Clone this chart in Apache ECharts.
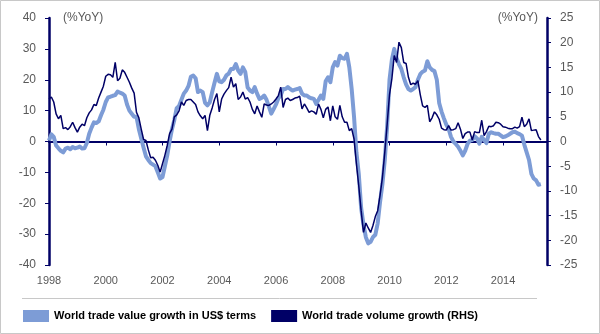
<!DOCTYPE html>
<html>
<head>
<meta charset="utf-8">
<style>
  html, body { margin: 0; padding: 0; background: #ffffff; }
  #chart { width: 600px; height: 334px; }
</style>
<script src="https://cdn.jsdelivr.net/npm/echarts@6/dist/echarts.min.js"></script>
</head>
<body>
<div id="chart"></div>
<script>
// Monthly series, January 1998 onwards (% year on year)
var startYear = 1998;

// World trade value growth in US$ terms (left axis)
var valueGrowth = [
  0.3, 2.3, 1.5, -1.3, -2.2, -3.0, -3.5, -2.3, -2.0, -2.5, -1.8, -2.2,          // 1998
  -2.0, -1.6, -2.3, -2.2, -0.5, 2.5, 4.5, 6.2, 6.0, 6.5, 8.5, 10.3,              // 1999
  12.8, 14.3, 14.5, 14.8, 15.0, 16.2, 15.8, 15.5, 14.9, 12.0, 10.0, 9.0,          // 2000
  8.0, 8.0, 4.0, 1.0, -2.0, -4.8, -6.0, -7.0, -7.5, -8.0, -10.0, -12.0,           // 2001
  -11.5, -8.0, -4.5, 0.0, 4.0, 7.0, 10.8, 11.5, 13.5, 15.5, 16.5, 18.0,           // 2002
  21.0, 21.4, 20.5, 16.0, 16.5, 16.0, 12.5, 11.7, 12.7, 16.0, 19.0, 21.9,         // 2003
  19.5, 19.2, 20.0, 21.4, 22.0, 23.5, 23.5, 25.1, 23.0, 21.9, 24.0, 22.5,         // 2004
  17.5, 16.5, 16.0, 17.6, 15.5, 13.8, 14.2, 14.9, 13.5, 11.3, 9.0, 10.5,          // 2005
  12.0, 14.0, 15.0, 17.0, 17.0, 17.6, 17.0, 16.5, 16.8, 17.0, 17.3, 15.5,         // 2006
  14.9, 14.9, 14.3, 14.0, 13.8, 12.2, 13.5, 14.9, 13.8, 19.5, 20.8, 19.2,         // 2007
  24.0, 25.7, 24.6, 27.8, 27.0, 26.8, 28.4, 24.0, 17.0, 8.0, -3.5, -10.5,         // 2008
  -21.5, -27.0, -31.0, -33.0, -32.5, -31.0, -30.2, -26.5, -19.6, -13.8, -6.0, 5.0, // 2009
  20.0, 26.5, 30.0, 27.0, 25.0, 23.5, 20.8, 18.5, 17.0, 16.5, 17.0, 17.6,         // 2010
  20.0, 21.8, 22.6, 23.0, 26.0, 24.0, 23.2, 22.8, 20.0, 12.5, 9.7, 7.5,           // 2011
  5.5, 4.1, 1.5, 0.0, -0.8, -1.7, -3.0, -4.5, -3.0, -0.8, 0.3, 0.5,               // 2012
  1.7, 1.0, -0.7, 1.5, 0.5, -0.5, 2.5, 3.0, 2.7, 2.5, 2.5, 2.0,                   // 2013
  1.4, 1.6, 2.0, 2.5, 3.0, 3.2, 2.7, 2.4, 1.9, -1.0, -3.5, -6.0,                  // 2014
  -10.5, -12.0, -12.6, -14.0, -13.8                                               // 2015
];

// World trade volume growth (right axis)
var volumeGrowth = [
  8.6, 9.0, 8.0, 5.6, 4.6, 5.3, 2.6, 2.8, 2.4, 3.0, 3.9, 2.8,                     // 1998
  1.9, 2.9, 3.5, 3.2, 4.8, 5.8, 6.4, 7.5, 7.3, 8.8, 10.0, 11.2,                   // 1999
  13.2, 13.6, 13.5, 13.0, 16.0, 12.3, 12.8, 14.5, 14.0, 13.0, 12.0, 10.8,         // 2000
  9.8, 5.9, 4.8, 2.5, 0.4, 0.2, -1.7, -3.3, -3.2, -3.8, -4.8, -6.2,               // 2001
  -4.5, -2.8, -0.8, 1.6, 2.5, 5.0, 5.4, 6.2, 8.0, 7.3, 8.3, 8.5,                  // 2002
  8.5, 8.0, 7.5, 6.0, 5.2, 4.6, 5.3, 2.2, 5.3, 6.8, 8.5, 9.7,                     // 2003
  6.0, 8.6, 9.6, 10.3, 10.9, 13.0, 11.0, 11.7, 8.5, 9.0, 10.0, 8.6,               // 2004
  8.9, 8.0, 6.5, 5.6, 7.2, 6.0, 4.9, 7.6, 7.4, 7.3, 7.6, 8.0,                     // 2005
  8.6, 9.3, 11.0, 6.9, 8.5, 8.8, 8.3, 8.5, 8.8, 8.9, 9.2, 6.6,                    // 2006
  7.6, 6.8, 5.9, 6.2, 6.0, 5.5, 7.6, 6.5, 4.8, 6.5, 7.0, 4.2,                     // 2007
  7.2, 5.0, 4.5, 7.3, 5.0, 3.9, 3.9, 2.2, 2.6, 0.5, -4.5, -9.0,                   // 2008
  -14.0, -18.4, -16.5, -17.5, -18.4, -17.0, -15.2, -14.0, -10.9, -7.3, -2.2, 3.5, // 2009
  9.5, 12.7, 17.4, 16.0, 20.1, 19.0, 16.0, 15.8, 13.0, 11.5, 11.8, 11.6,          // 2010
  12.3, 9.5, 7.2, 6.9, 7.3, 4.0, 4.8, 6.0, 5.4, 4.5, 2.7, 2.4,                    // 2011
  2.3, 3.2, 2.3, 2.4, 2.6, 3.8, 2.5, 0.6, 1.6, 1.9, 1.9, 0.3,                     // 2012
  2.0, 1.8, 1.8, 4.3, 1.2, 2.0, 3.1, 3.0, 3.2, 3.9, 3.8, 3.5,                     // 2013
  3.0, 2.9, 2.7, 2.6, 2.6, 2.9, 2.7, 3.0, 4.9, 3.0, 3.5, 4.6,                     // 2014
  2.2, 2.3, 2.4, 1.0, 0.3                                                         // 2015
];

var yearTicks = [1998, 2000, 2002, 2004, 2006, 2008, 2010, 2012, 2014];
var leftTicks = { min: -40, max: 40, step: 10 };
var rightTicks = { min: -25, max: 25, step: 5 };

var valueName = 'World trade value growth in US$ terms';
var volumeName = 'World trade volume growth (RHS)';

function toPairs(values) {
  return values.map(function (v, i) { return [startYear + i / 12, v]; });
}

var navy = '#000066';
var lightBlue = '#7d9cd6';
var labelGrey = '#595959';
var font = '"Liberation Sans", Arial, sans-serif';

var chart = echarts.init(document.getElementById('chart'), null, { renderer: 'canvas' });

chart.setOption({
  animation: false,
  backgroundColor: '#ffffff',
  grid: { left: 49, right: 53, top: 18, bottom: 69, containLabel: false },
  legend: {
    left: 23,
    top: 310,
    padding: 0,
    icon: 'rect',
    itemWidth: 26,
    itemHeight: 12,
    itemGap: 15,
    textStyle: { fontFamily: font, fontSize: 11, fontWeight: 'bold', color: '#000000', padding: [0, 0, 0, 0] },
    data: [valueName, volumeName]
  },
  xAxis: [
    {
      // year labels along the bottom edge
      type: 'value',
      position: 'bottom',
      min: startYear,
      max: 2015.55,
      axisLine: { show: false, onZero: false },
      axisTick: { show: false },
      splitLine: { show: false },
      axisLabel: {
        customValues: yearTicks,
        color: labelGrey,
        fontFamily: font,
        fontSize: 11,
        margin: 10,
        formatter: function (v) { return String(Math.round(v)); }
      }
    },
    {
      // zero line with tick marks
      type: 'value',
      position: 'bottom',
      min: startYear,
      max: 2015.55,
      axisLine: { show: true, onZero: true, lineStyle: { color: navy, width: 2 } },
      axisTick: { show: true, customValues: yearTicks, length: 4, lineStyle: { color: navy, width: 1 } },
      axisLabel: { show: false },
      splitLine: { show: false }
    }
  ],
  yAxis: [
    {
      type: 'value',
      position: 'left',
      min: leftTicks.min,
      max: leftTicks.max,
      interval: leftTicks.step,
      name: '(%YoY)',
      nameLocation: 'end',
      nameGap: 0,
      nameTextStyle: { color: labelGrey, fontFamily: font, fontSize: 12, align: 'left', verticalAlign: 'middle', padding: [0, 0, 0, 14] },
      axisLine: { show: true, lineStyle: { color: navy, width: 2.5 } },
      axisTick: { show: true, length: 4, lineStyle: { color: navy, width: 1 } },
      axisLabel: { color: labelGrey, fontFamily: font, fontSize: 12, margin: 13 },
      splitLine: { show: false }
    },
    {
      type: 'value',
      position: 'right',
      min: rightTicks.min,
      max: rightTicks.max,
      interval: rightTicks.step,
      name: '(%YoY)',
      nameLocation: 'end',
      nameGap: 0,
      nameTextStyle: { color: labelGrey, fontFamily: font, fontSize: 12, align: 'right', verticalAlign: 'middle', padding: [0, 9, 0, 0] },
      axisLine: { show: true, lineStyle: { color: navy, width: 2.5 } },
      axisTick: { show: true, length: 4, lineStyle: { color: navy, width: 1 } },
      axisLabel: { color: labelGrey, fontFamily: font, fontSize: 12, margin: 13 },
      splitLine: { show: false }
    }
  ],
  series: [
    {
      name: valueName,
      type: 'line',
      xAxisIndex: 0,
      yAxisIndex: 0,
      data: toPairs(valueGrowth),
      showSymbol: false,
      symbol: 'none',
      color: lightBlue,
      lineStyle: { color: lightBlue, width: 4, join: 'round' },
      z: 2
    },
    {
      name: volumeName,
      type: 'line',
      xAxisIndex: 0,
      yAxisIndex: 1,
      data: toPairs(volumeGrowth),
      showSymbol: false,
      symbol: 'none',
      color: navy,
      lineStyle: { color: navy, width: 1.5 },
      z: 3
    }
  ],
  graphic: [
    {
      type: 'rect',
      shape: { x: 0.5, y: 0.5, width: 599, height: 333 },
      style: { fill: null, stroke: '#c8c8c8', lineWidth: 1 },
      silent: true,
      z: 0
    },
    {
      type: 'line',
      shape: { x1: 22, y1: 298.5, x2: 537, y2: 298.5 },
      style: { stroke: '#c8c8c8', lineWidth: 1 },
      silent: true
    }
  ]
});
</script>
</body>
</html>
